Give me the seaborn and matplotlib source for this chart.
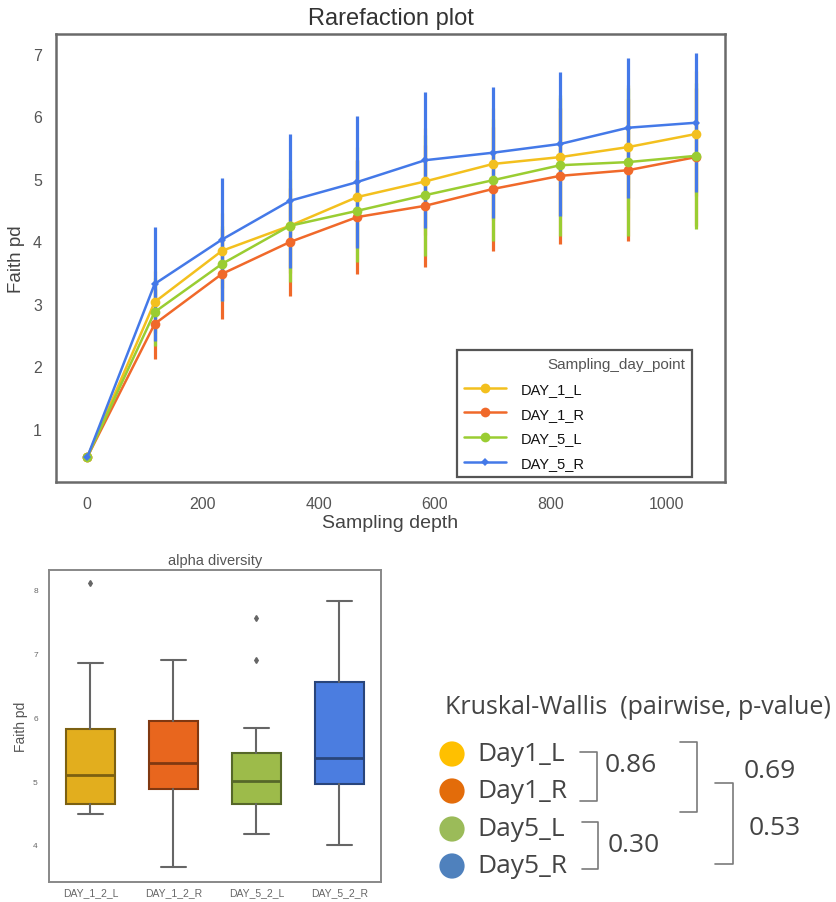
import matplotlib
matplotlib.use("Agg")
import numpy as np
import pandas as pd
import matplotlib.pyplot as plt
import matplotlib.colors as mcolors
import seaborn as sns

# rarefaction curves (mean faith pd and sd per sampling depth)
depth = [1, 117, 233, 350, 466, 583, 700, 816, 933, 1050]
groups = ["DAY_1_L", "DAY_1_R", "DAY_5_L", "DAY_5_R"]
faith_day1_L = [0.55, 3.03, 3.85, 4.25, 4.71, 4.96, 5.24, 5.35, 5.51, 5.72]
faith_day1_R = [0.55, 2.68, 3.48, 3.99, 4.39, 4.57, 4.84, 5.05, 5.14, 5.35]
faith_day5_L = [0.55, 2.87, 3.64, 4.25, 4.49, 4.74, 4.98, 5.22, 5.27, 5.37]
faith_day5_R = [0.55, 3.32, 4.03, 4.65, 4.95, 5.30, 5.42, 5.56, 5.82, 5.90]
sd_day1_L = [0.0, 0.50, 0.60, 0.75, 0.80, 0.85, 0.90, 0.95, 1.00, 1.00]
sd_day1_R = [0.0, 0.56, 0.72, 0.86, 0.91, 0.98, 0.99, 1.09, 1.14, 1.10]
sd_day5_L = [0.0, 0.55, 0.60, 0.90, 0.82, 0.97, 0.98, 1.13, 1.18, 1.17]
sd_day5_R = [0.0, 0.91, 0.99, 1.07, 1.05, 1.09, 1.05, 1.15, 1.12, 1.11]

# alpha diversity boxplot summaries
box_labels = ["DAY_1_2_L", "DAY_1_2_R", "DAY_5_2_L", "DAY_5_2_R"]
box_whislo = [4.48, 3.65, 4.17, 4.00]
box_q1 = [4.65, 4.88, 4.65, 4.96]
box_med = [5.10, 5.28, 5.01, 5.37]
box_q3 = [5.82, 5.94, 5.44, 6.56]
box_whishi = [6.86, 6.90, 5.83, 7.83]
box_fliers = [[8.10], [], [6.90, 7.56], []]

# Kruskal-Wallis pairwise p-values
kw_groups = ["Day1_L", "Day1_R", "Day5_L", "Day5_R"]
p_day1 = 0.86   # Day1_L vs Day1_R
p_day5 = 0.30   # Day5_L vs Day5_R
p_left = 0.69   # Day1_L vs Day5_L
p_right = 0.53  # Day1_R vs Day5_R

line_colors = ["#F3C01E", "#F0692A", "#9ACD32", "#4479E8"]
box_colors = ["#E2AE1E", "#E8661E", "#9DBB4A", "#4B7DE0"]
kw_colors = ["#FFC000", "#E36C0A", "#9BBB59", "#4F81BD"]

sns.set_style("white")
plt.rcParams["font.family"] = ["Liberation Sans", "DejaVu Sans"]

W, H = 837, 903
fig = plt.figure(figsize=(W / 100, H / 100), dpi=100)


def px_axes(left, top, right, bottom):
    return fig.add_axes([left / W, 1 - bottom / H, (right - left) / W, (bottom - top) / H])


# ---- rarefaction plot ----
ax1 = px_axes(56, 35, 725, 483)
rare_df = pd.DataFrame({
    "depth": depth * 4,
    "faith": faith_day1_L + faith_day1_R + faith_day5_L + faith_day5_R,
    "sd": sd_day1_L + sd_day1_R + sd_day5_L + sd_day5_R,
    "group": np.repeat(groups, len(depth)),
})

for g, color in zip(groups, line_colors):
    sub = rare_df[rare_df["group"] == g]
    ax1.errorbar(sub["depth"], sub["faith"], yerr=sub["sd"], fmt="none",
                 ecolor=color, elinewidth=2.3, zorder=2)

markers = ["o", "o", "o", "D"]
msizes = [7, 7, 7, 4.5]
for g, color, mk, ms in zip(groups, line_colors, markers, msizes):
    sub = rare_df[rare_df["group"] == g]
    sns.lineplot(data=sub, x="depth", y="faith", color=color, marker=mk,
                 markersize=ms, markeredgewidth=0, linewidth=1.8, label=g,
                 errorbar=None, ax=ax1, zorder=3)

ax1.set_xlim(-53, 1100)
ax1.set_ylim(0.15, 7.32)
ax1.set_xticks([0, 200, 400, 600, 800, 1000])
ax1.set_yticks([1, 2, 3, 4, 5, 6, 7])
ax1.tick_params(length=0, labelsize=11.5, labelcolor="#555555", pad=10)
ax1.set_title("Rarefaction plot", fontsize=17, color="#333333", pad=7)
ax1.set_xlabel("Sampling depth", fontsize=14, color="#444444", labelpad=2)
ax1.set_ylabel("Faith pd", fontsize=13.5, color="#444444", labelpad=6)
for sp in ax1.spines.values():
    sp.set_color("#6a6a6a")
    sp.set_linewidth(1.8)

leg_x0 = (457 - 56) / 669
leg_w = (692 - 457) / 669
leg_y0 = (483 - 478) / 448
leg_h = (478 - 348) / 448
leg = ax1.legend(title="Sampling_day_point", loc="lower left",
                 bbox_to_anchor=(leg_x0, leg_y0, leg_w, leg_h), mode="expand",
                 borderaxespad=0, fontsize=10.5, title_fontsize=11,
                 handlelength=2.9, labelspacing=0.75, borderpad=0.45,
                 handletextpad=1.0, fancybox=False, frameon=True,
                 alignment="right")
leg.get_title().set_color("#555555")
for t in leg.get_texts():
    t.set_color("#111111")
leg.get_frame().set_edgecolor("#555555")
leg.get_frame().set_linewidth(1.6)
leg.get_frame().set_alpha(1)

# ---- alpha diversity boxplot ----
ax2 = px_axes(49, 571, 381, 883)
stats = []
for i, lab in enumerate(box_labels):
    stats.append({"label": lab, "whislo": box_whislo[i], "q1": box_q1[i],
                  "med": box_med[i], "q3": box_q3[i], "whishi": box_whishi[i],
                  "fliers": box_fliers[i]})
bp = ax2.bxp(stats, positions=range(len(box_labels)), widths=0.58, patch_artist=True,
             whiskerprops={"color": "#666666", "linewidth": 1.5},
             capprops={"color": "#666666", "linewidth": 1.5},
             flierprops={"marker": "d", "markersize": 3, "markerfacecolor": "#666666",
                         "markeredgecolor": "#666666"})
for patch, med, color in zip(bp["boxes"], bp["medians"], box_colors):
    dark = tuple(np.array(mcolors.to_rgb(color)) * 0.55)
    patch.set_facecolor(color)
    patch.set_edgecolor(dark)
    patch.set_linewidth(1.5)
    med.set_color(dark)
    med.set_linewidth(2)

ax2.set_xlim(-0.5, 3.5)
ax2.set_ylim(3.42, 8.31)
ax2.set_yticks([4, 5, 6, 7, 8])
ax2.tick_params(axis="y", length=0, labelsize=6, labelcolor="#666666", pad=8)
ax2.tick_params(axis="x", length=0, labelsize=7.5, labelcolor="#666666", pad=4)
ax2.set_title("alpha diversity", fontsize=10.5, color="#555555", pad=4)
ax2.set_ylabel("Faith pd", fontsize=10, color="#555555", labelpad=4)
for sp in ax2.spines.values():
    sp.set_color("#888888")
    sp.set_linewidth(1.4)

# ---- Kruskal-Wallis panel ----
ax3 = fig.add_axes([0, 0, 1, 1])
ax3.set_xlim(0, W)
ax3.set_ylim(H, 0)
ax3.axis("off")
ax3.patch.set_visible(False)

kw_font = ["Open Sans", "DejaVu Sans"]
ax3.text(445, 708, "Kruskal-Wallis  (pairwise, p-value)", fontsize=18,
         color="#444444", va="center", ha="left", family=kw_font)
row_y = [755, 792, 830, 867]
ax3.scatter([452] * 4, row_y, s=330, c=kw_colors, linewidths=0)
for y, lab in zip(row_y, kw_groups):
    ax3.text(477, y, lab, fontsize=19, color="#444444", va="center", ha="left",
             family=kw_font)

bcol = "#7a7a7a"


def bracket(x0, x1, y0, y1):
    ax3.plot([x0, x1, x1, x0], [y0, y0, y1, y1], color=bcol, linewidth=1.2)


bracket(580, 597, 753, 802)
bracket(582, 598, 823, 870)
bracket(680, 697, 743, 813)
bracket(715, 733, 784, 865)
ax3.text(605, 766, f"{p_day1:.2f}", fontsize=19, color="#444444", va="center",
         family=kw_font)
ax3.text(608, 846, f"{p_day5:.2f}", fontsize=19, color="#444444", va="center",
         family=kw_font)
ax3.text(744, 772, f"{p_left:.2f}", fontsize=19, color="#444444", va="center",
         family=kw_font)
ax3.text(749, 829, f"{p_right:.2f}", fontsize=19, color="#444444", va="center",
         family=kw_font)

fig.savefig("out.png", dpi=100)
